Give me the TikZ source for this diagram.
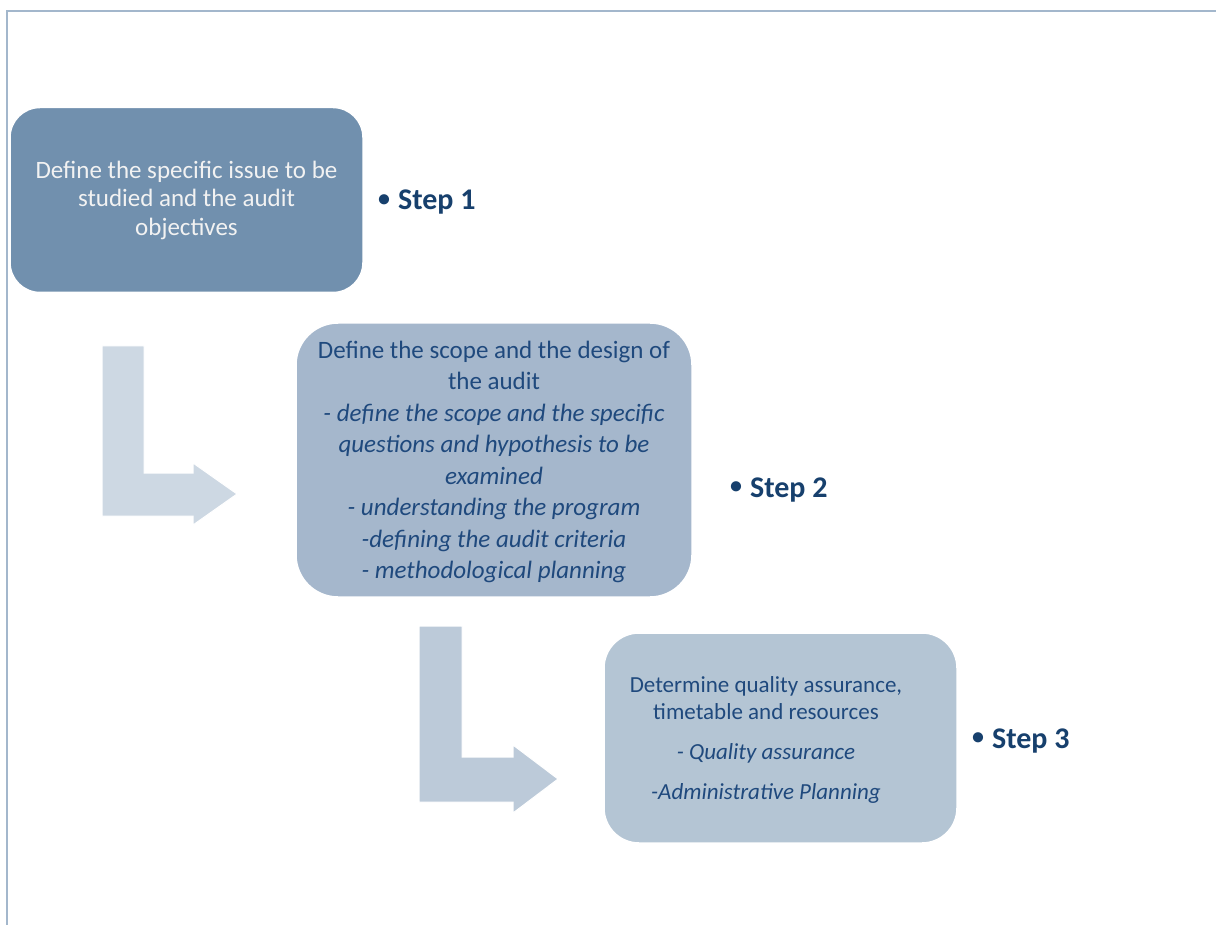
\documentclass[tikz,border=0pt]{standalone}
\usepackage{fontspec}
\setmainfont{Carlito}
\definecolor{frameblue}{HTML}{A3B7CC}
\definecolor{boxone}{HTML}{7190AE}
\definecolor{boxtwo}{HTML}{A5B7CC}
\definecolor{boxthree}{HTML}{B4C5D4}
\definecolor{arrowone}{HTML}{CDD8E3}
\definecolor{arrowtwo}{HTML}{BCCAD9}
\definecolor{darktext}{HTML}{1F497D}
\definecolor{steptext}{HTML}{17406D}
\newcommand{\stepbullet}{\raisebox{3.5pt}{\fontsize{24}{24}\selectfont•}\hspace{8pt}}
\begin{document}
\begin{tikzpicture}[x=1pt,y=-1pt,
  stagebox/.style={draw=white, line width=1.5pt, align=center, inner sep=0pt},
  stagetext/.style={align=center, inner sep=0pt},
  steplabel/.style={anchor=base west, inner sep=0pt, text=steptext,
    font=\fontsize{30}{34}\selectfont\bfseries},
  bentarrow/.style={draw=white, line width=1pt}]
\useasboundingbox (0,0) rectangle (1216,925);

% page frame
\draw[frameblue, line width=2pt] (7,925) -- (7,11) -- (1216,11);

% bent arrows between stages
\draw[bentarrow, fill=arrowone]
  (102,346) -- (144,346) -- (144,473) -- (193,473) -- (193,463) -- (237,494)
  -- (193,525) -- (193,516) -- (102,516) -- cycle;
\draw[bentarrow, fill=arrowtwo]
  (419,626) -- (462,626) -- (462,757) -- (513,757) -- (513,745) -- (558,779)
  -- (513,813) -- (513,802) -- (419,802) -- cycle;

% stage boxes
\node[stagebox, fill=boxone, rounded corners=30pt,
      minimum width=353pt, minimum height=185pt,
      text=white!95!black, font=\fontsize{25}{28.5}\selectfont]
  (s1) at (186.5,200)
  {Define the specific issue to be\\studied and the audit\\objectives};

\node[stagebox, fill=boxtwo, rounded corners=42pt,
      minimum width=396pt, minimum height=274pt] (s2) at (494,460) {};
\node[stagetext, text=darktext, font=\fontsize{25}{31.5}\selectfont]
  (s2text) at (494,462)
  {Define the scope and the design of\\the audit\\
   {\itshape - define the scope and the specific}\\
   {\itshape questions and hypothesis to be}\\
   {\itshape examined}\\
   {\itshape - understanding the program}\\
   {\itshape -defining the audit criteria}\\
   {\itshape - methodological planning}};

\node[stagebox, fill=boxthree, rounded corners=35pt,
      minimum width=353pt, minimum height=210pt] (s3) at (780.5,738) {};
\node[stagetext, text=darktext, font=\fontsize{23}{27}\selectfont]
  (s3text) at (766,740)
  {Determine quality assurance,\\timetable and resources\\[13pt]
   {\itshape - Quality assurance}\\[13pt]
   {\itshape -Administrative Planning}};

% step labels
\node[steplabel] (l1) at (378,210) {\stepbullet Step 1};
\node[steplabel] (l2) at (730,497) {\stepbullet Step 2};
\node[steplabel] (l3) at (972,748) {\stepbullet Step 3};
\end{tikzpicture}
\end{document}
